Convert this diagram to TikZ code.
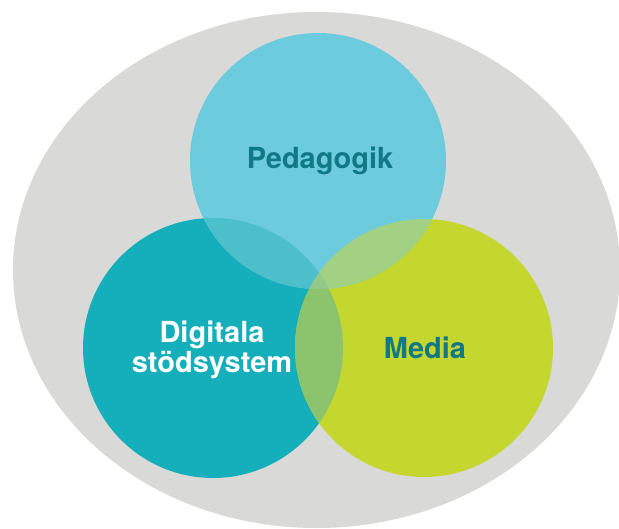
\documentclass[tikz,border=0pt]{standalone}
\usepackage{fontspec}
\setmainfont{TeX Gyre Heros}
\usetikzlibrary{positioning}
\definecolor{backgray}{HTML}{D9D9D7}
\definecolor{pedblue}{HTML}{6CCBDD}
\definecolor{digteal}{HTML}{14AFBA}
\definecolor{medlime}{HTML}{C3D72E}
\definecolor{pdmix}{HTML}{4DBFCB}
\definecolor{pmmix}{HTML}{A2D184}
\definecolor{dmmix}{HTML}{8CC46E}
\definecolor{allmix}{HTML}{92C98A}
\definecolor{darktext}{HTML}{107985}
\newcommand{\pedpath}{(318,161) circle (128pt)}
\newcommand{\digpath}{(213,348) circle (130pt)}
\newcommand{\medpath}{(424,348) circle (129pt)}
\newcommand{\overlap}[3]{\begin{scope}
					\clip #1;
					\fill[#3] #2;
					\end{scope}}
\tikzset{lbl/.style={font=\fontsize{29}{30}\selectfont\bfseries, inner sep=0pt, anchor=base}}

\begin{document}
\begin{tikzpicture}[x=1pt, y=-1pt]
					\useasboundingbox (0,0) rectangle (619,529);
					\fill[white] (0,0) rectangle (619,529);

					\fill[backgray] (316.5,270) ellipse (303.5pt and 258pt);

					\fill[digteal] \digpath;
					\fill[medlime] \medpath;
					\fill[pedblue] \pedpath;

					\overlap{\pedpath}{\digpath}{pdmix}
					\overlap{\pedpath}{\medpath}{pmmix}
					\overlap{\digpath}{\medpath}{dmmix}

					\begin{scope}
						\clip \pedpath;
						\clip \digpath;
						\fill[allmix] \medpath;
					\end{scope}

					\node[lbl, darktext] (pedagogik) at (320,169) {Pedagogik};
					\node[lbl, white] (digitala) at (212,343) {Digitala};
					\node[lbl, white, below=30pt of digitala.base, anchor=base] (stodsystem) {stödsystem};
					\node[lbl, darktext] (media) at (425,359) {Media};

				\end{tikzpicture}
\end{document}
